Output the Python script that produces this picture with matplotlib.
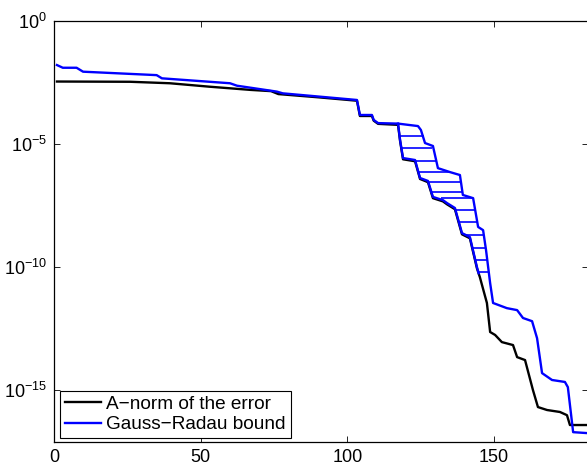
import numpy as np
import matplotlib
matplotlib.use("Agg")
import matplotlib.pyplot as plt

plt.rcParams['font.family'] = ['Liberation Sans', 'DejaVu Sans']
plt.rcParams['mathtext.fontset'] = 'custom'
plt.rcParams['mathtext.rm'] = 'Liberation Sans'
plt.rcParams['mathtext.it'] = 'Liberation Sans:italic'
plt.rcParams['mathtext.bf'] = 'Liberation Sans:bold'

# ---- data (x = iteration, values given as log10) ----
err_x = [1, 26, 39.5, 53, 67, 74, 76.5, 90, 103.3, 104.3, 108.4, 109, 110.5, 117.3,
         118, 119, 123.1, 124.8, 127.5, 129.2, 132.6, 134, 136.7, 139.1, 141.8, 144.2,
         145.2, 147.6, 148.7, 150.4, 152.7, 156.5, 157.9, 160.6, 163.3, 165, 168.1,
         172.5, 174.9, 175.9, 182]
err_log = [-2.46, -2.47, -2.53, -2.67, -2.8, -2.85, -2.97, -3.1, -3.24, -3.86, -3.86,
           -4.05, -4.18, -4.22, -4.88, -5.62, -5.7, -6.42, -6.55, -7.2, -7.33, -7.45,
           -7.65, -8.67, -8.83, -10.05, -10.41, -11.46, -12.64, -12.76, -13.05, -13.17,
           -13.66, -13.78, -15.0, -15.69, -15.81, -15.89, -16.02, -16.42, -16.42]

# common part of the Gauss-Radau bounds
gr_x = [1, 3, 7.7, 9.9, 35, 36.8, 60, 62.4, 76, 78, 103.3, 104.3, 108.4, 109, 110.5, 117.3]
gr_log = [-1.79, -1.9, -1.9, -2.06, -2.2, -2.33, -2.53, -2.63, -2.87, -2.94, -3.21,
          -3.82, -3.82, -4.02, -4.15, -4.17]

# lower-left branch of the bounds
grL_x = [117.3, 118, 119, 123.1, 124.8, 127.5, 129.2, 132.6, 134, 136.7, 139.1, 141.8,
         144.2, 144.8]
grL_log = [-4.17, -4.84, -5.57, -5.65, -6.38, -6.5, -7.15, -7.28, -7.4, -7.6, -8.62,
           -8.78, -10.0, -10.25]

# upper-right branch of the bounds
grR_x = [117.3, 124.1, 125.1, 126.5, 129.2, 130.9, 135, 138.4, 139.4, 142.9, 144.6,
         146.3, 147.3, 148.7, 149.7, 154.4, 157.9, 159.9, 163, 164.7, 166.4, 169.8,
         174.2, 175.2, 177, 182]
grR_log = [-4.12, -4.27, -4.43, -4.96, -5.08, -5.98, -6.14, -6.26, -7.07, -7.2, -8.37,
           -8.5, -9.31, -10.65, -11.46, -11.67, -11.75, -12.07, -12.2, -12.89, -14.31,
           -14.59, -14.67, -14.88, -16.71, -16.75]

# stagnation plateaus of the individual bounds
plat_log = [-4.67, -5.16, -5.69, -6.14, -6.54, -6.95, -7.2, -7.68, -8.17, -8.7, -9.23,
            -9.72, -10.2]
plat_start = [117.8, 118.5, 123.1, 124.4, 127.5, 128.2, 131.8, 136.8, 138.2, 140.2,
              142.5, 143.5, 144.3]
plat_end = [126.3, 128.9, 130.4, 135.0, 138.8, 139.3, 142.9, 143.6, 144.3, 146.5,
            147.2, 147.7, 148.2]

yticks = [1e-15, 1e-10, 1e-5, 1e0]
ytick_labels = [r'$10^{-15}$', r'$10^{-10}$', r'$10^{-5}$', r'$10^{0}$']
xticks = [0, 50, 100, 150]

W, H = 587, 466
fig = plt.figure(figsize=(W / 100, H / 100), dpi=100)
ax = fig.add_axes([54 / W, 24 / H, 533.8 / W, 421 / H])

blue = (0, 0, 1)
lw = 1.7
ax.plot(err_x, 10.0 ** np.array(err_log), color='black', lw=lw,
        label='A\u2212norm of the error')
ax.plot(gr_x + grR_x[1:], 10.0 ** np.array(gr_log + grR_log[1:]), color=blue, lw=lw,
        label='Gauss\u2212Radau bound')
ax.plot(grL_x, 10.0 ** np.array(grL_log), color=blue, lw=lw)
ax.hlines(10.0 ** np.array(plat_log), plat_start, plat_end, color=blue, lw=1.2)

ax.set_yscale('log')
ax.set_xlim(0, 182)
ax.set_ylim(10 ** -17.11, 1)
ax.set_yticks(yticks)
ax.set_yticklabels(ytick_labels)
ax.yaxis.set_minor_locator(matplotlib.ticker.NullLocator())
ax.set_xticks(xticks)
ax.tick_params(direction='in', length=4, width=0.6, top=True, right=True,
               labelsize=13, pad=5, colors='black')
for s in ax.spines.values():
    s.set_linewidth(0.9)

leg = ax.legend(loc='lower left', bbox_to_anchor=(0.011, 0.0095), borderaxespad=0,
                fontsize=13.7, frameon=True, fancybox=False, framealpha=1,
                edgecolor='black', handlelength=1.9, handletextpad=0.3,
                borderpad=0.25, labelspacing=0.15)
leg.get_frame().set_linewidth(0.8)

fig.savefig('out.png', dpi=100)
